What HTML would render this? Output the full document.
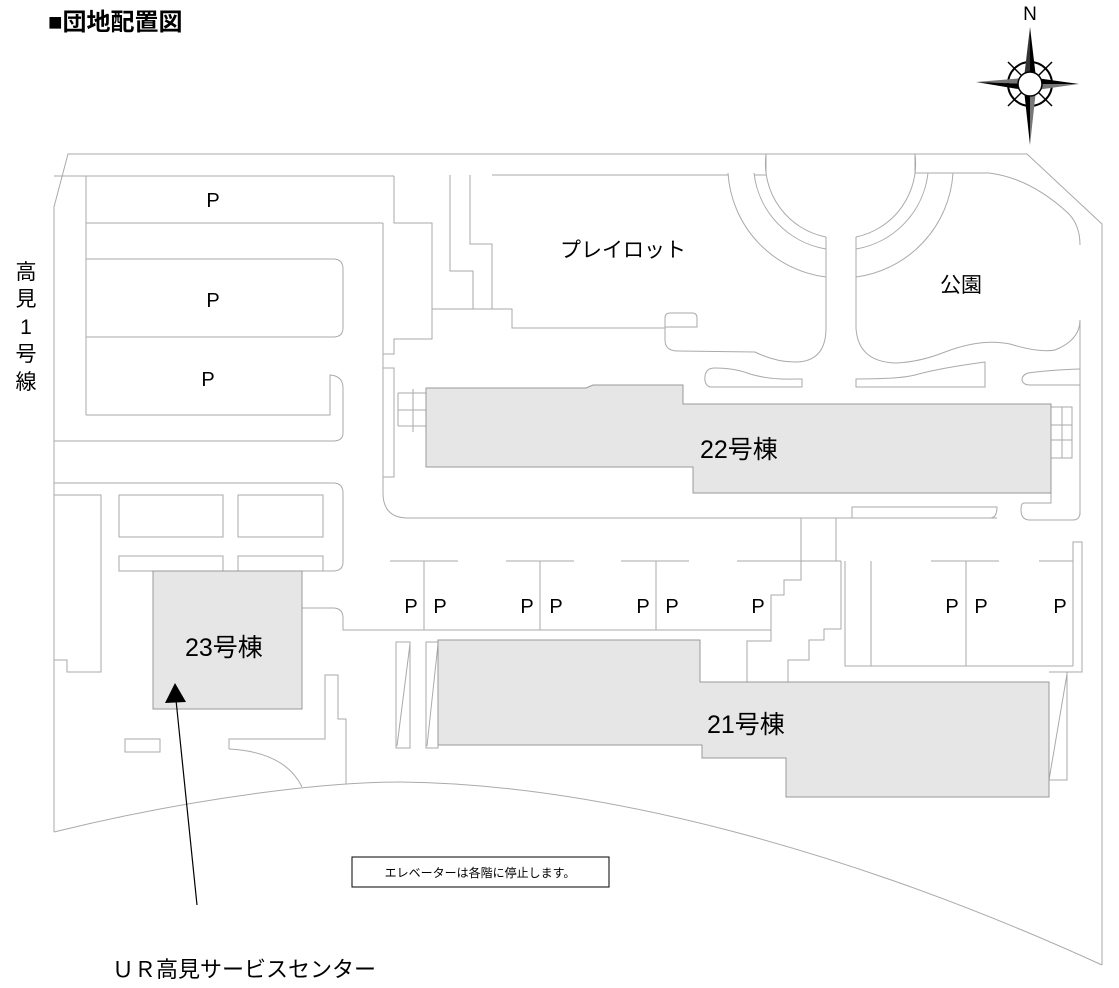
<!DOCTYPE html>
<html><head><meta charset="utf-8"><style>
html,body{margin:0;padding:0;background:#fff;}
svg{display:block;}
text{font-family:"Liberation Sans","Noto Sans CJK JP",sans-serif;fill:#000;}
</style></head><body>
<svg width="1119" height="988" viewBox="0 0 1119 988" xmlns="http://www.w3.org/2000/svg">
<g fill="none" stroke="#aaa" stroke-width="1">
<path d="M54,832 L54,207 L68,154 L1027,154 L1102,224 L1102,965"/>
<path d="M54,832 C200,796 330,782 400,782 C600,784 850,850 1102,965"/>
<path d="M54,176 L394,176 M394,176 L394,223 L432,223 L432,339 L394,339 L394,354 L383,354 M383,223 L383,493 Q383,518 408,518 L997,518"/>
<path d="M86,176 L86,415 M86,223 L383,223"/>
<path d="M450,175 L450,271 L473,271 L473,309 M470,175 L470,244 L492,244 L492,309 M432,309 L512,309 L512,328 L665,328 M492,175 L728,175 M754,175 L766,175 M915,173 L989,173"/>
<path d="M86,259 L333,259 Q343,259 343,269 L343,328 Q343,337 333,337 L86,337"/>
<path d="M86,415 L330,415 L330,375 Q343,376 343,388 L343,433 Q343,441 333,441 L54,441"/>
<path d="M54,483 L333,483 Q343,483 343,493 L343,562 Q343,571 333,571 L302,571"/>
<rect x="383" y="368" width="11" height="109"/>
<path d="M398,393 H426 M398,410 H426 M398,426 H426 M398,393 V426 M413,389 V432"/>
<path d="M54,495 L101,495 L101,672 L67,672 L67,660 L54,660"/>
<rect x="119" y="495" width="104" height="42"/>
<rect x="238" y="495" width="85" height="42"/>
<rect x="119" y="556" width="104" height="15"/>
<rect x="238" y="556" width="85" height="15"/>
<rect x="125" y="739" width="35" height="13"/>
<path d="M229,749 L229,739 L325,739 L325,675 L338,675 L338,719 L346,719 L346,784"/>
<path d="M229,749 Q285,752 302,787"/>
<path d="M302,608 L333,608 Q343,608 343,618 L343,630 L771,630"/>
<path d="M390,561 H458 M506,561 H574 M621,561 H689 M737,561 H841 M931,561 H999 M1039,561 H1073"/>
<path d="M424,561 V630 M540,561 V630 M656,561 V630 M966,561 V666"/>
<path d="M801,518 L801,580 L784,580 L784,595 L771,595 L771,641 L747,641 L747,682"/>
<path d="M836,518 L836,561 M841,561 L841,629 L824,629 L824,640 L809,640 L809,660 L788,660 L788,682"/>
<path d="M845,561 L845,666 L1073,666 M871,561 L871,666"/>
<path d="M1073,666 L1073,542 L1082,542 L1082,672 L1049,672"/>
<path d="M1049,672 L1067,672 L1067,780 L1049,780 M1067,674 L1049,780"/>
<rect x="396" y="642" width="14" height="106"/>
<path d="M410,644 L397,746"/>
<rect x="426" y="642" width="12" height="106"/>
<path d="M438,644 L427,746"/>
<path d="M766,154 A75,75 0 0 0 826,237 M915,154 A75,75 0 0 1 856,237"/>
<path d="M766,154 V173 M915,154 V173"/>
<path d="M754,173 A87,87 0 0 0 826,249 M928,173 A87,87 0 0 1 856,249"/>
<path d="M728,173 A112,112 0 0 0 826,277 M953,173 A112,112 0 0 1 856,277"/>
<path d="M826,237 L826,328 Q826,362 795,362 Q775,362 755,352 L678,351 Q665,351 665,340 L665,318 Q665,313 670,313 L692,313 Q697,313 697,318 L697,327 L665,327"/>
<path d="M856,237 L856,328 Q858,362 896,363 Q920,362 945,352 Q981,338 1010,344 Q1039,353 1055,350 Q1080,340 1080,320 L1080,515"/>
<path d="M989,173 Q1030,178 1068,213 Q1080,225 1080,245"/>
<path d="M802,379 L802,387 L710,387 Q704,385 705,376 Q706,368 715,368 Q735,368 750,374 Q770,380 795,379 Z"/>
<path d="M856,379 L856,387 L985,387 L985,362 Q940,368 915,375 Q900,379 856,379 Z"/>
<path d="M1080,369 Q1050,370 1028,373 Q1022,375 1022,380 Q1023,385 1030,385 L1080,385"/>
<path d="M852,518 L852,507 L997,507 Q997,518 990,518"/>
<path d="M1051,493 L1051,503 L1024,503 Q1021,503 1021,510 Q1021,520 1030,520 L1073,520 Q1080,520 1080,512"/>
<path d="M1051,407 H1072 V458 H1051 M1051,425 H1072 M1051,440 H1072 M1062,407 V458"/>
</g>
<g fill="#e6e6e6" stroke="#999" stroke-width="1">
<polygon points="426,388 586,388 593,385 683,385 683,404 1051,404 1051,493 693,493 693,467 426,467"/>
<rect x="153" y="571" width="149" height="138"/>
<polygon points="438,640 700,640 700,682 1049,682 1049,797 786,797 786,758 702,758 702,745 438,745"/>
</g>
<line x1="197" y1="905" x2="176" y2="700" stroke="#000" stroke-width="1.2"/>
<polygon points="175,683 165,703 186,702" fill="#000"/>
<g transform="translate(1030,84)">
<circle r="22" fill="none" stroke="#000" stroke-width="2"/>
<path d="M-22,-22 L22,22 M22,-22 L-22,22" stroke="#000" stroke-width="1.5"/>
<polygon points="0,-57 6,-6 0,0" fill="#000"/><polygon points="0,-57 -6,-6 0,0" fill="#333"/>
<polygon points="0,61 -6,6 0,0" fill="#000"/><polygon points="0,61 6,6 0,0" fill="#777"/>
<polygon points="-54,-2 -6,-6 0,0" fill="#777"/><polygon points="-54,-2 -6,6 0,0" fill="#000"/>
<polygon points="49,0 6,-6 0,0" fill="#000"/><polygon points="49,0 6,6 0,0" fill="#777"/>
<circle r="12" fill="#fff" stroke="#000" stroke-width="1.5"/>
</g>
<text x="1030" y="20" font-size="19" text-anchor="middle">N</text>
<text x="48" y="30" font-size="24" font-weight="bold">■団地配置図</text>
<g font-size="21" text-anchor="middle">
<text x="26" y="279">高</text><text x="26" y="306">見</text><text x="26" y="334">1</text><text x="26" y="361">号</text><text x="26" y="389">線</text>
</g>
<g font-size="20" text-anchor="middle">
<text x="213" y="207">P</text><text x="213" y="307">P</text><text x="208" y="386">P</text>
<text x="411" y="613">P</text><text x="440" y="613">P</text><text x="527" y="613">P</text><text x="556" y="613">P</text>
<text x="643" y="613">P</text><text x="672" y="613">P</text><text x="758" y="613">P</text>
<text x="952" y="613">P</text><text x="981" y="613">P</text><text x="1060" y="613">P</text>
</g>
<text x="560" y="257" font-size="21">プレイロット</text>
<text x="940" y="292" font-size="21">公園</text>
<text x="700" y="458" font-size="25">22号棟</text>
<text x="185" y="656" font-size="25">23号棟</text>
<text x="707" y="733" font-size="25">21号棟</text>
<rect x="352" y="857" width="257" height="30" fill="none" stroke="#000" stroke-width="1"/>
<text x="480" y="877" font-size="12" text-anchor="middle">エレベーターは各階に停止します。</text>
<text x="112" y="977" font-size="22">ＵＲ高見サービスセンター</text>
</svg>
</body></html>
